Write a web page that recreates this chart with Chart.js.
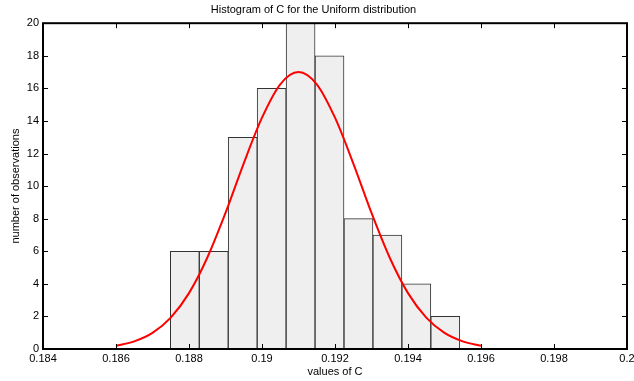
<!DOCTYPE html>
<html>
<head>
<meta charset="utf-8">
<script src="https://cdn.jsdelivr.net/npm/chart.js@4"></script>
<style>
  html, body { margin: 0; padding: 0; background: #fff; }
  #wrap { width: 634px; height: 381px; }
</style>
</head>
<body>
<div id="wrap"><canvas id="js--histogram"></canvas></div>
<script>
// histogram bins (centres) and counts
const binCenters = [0.187885, 0.188678, 0.189471, 0.190264, 0.191057, 0.191850, 0.192643, 0.193436, 0.194229, 0.195022];
const counts = [6, 6, 13, 16, 20, 18, 8, 7, 4, 2];

// fitted curve
const fitX = [0.186, 0.1865, 0.187, 0.1875, 0.188, 0.1885, 0.189, 0.1895, 0.190, 0.1905, 0.191,
              0.1915, 0.192, 0.1925, 0.193, 0.1935, 0.194, 0.1945, 0.195, 0.1955, 0.196];
const fitY = [0.20, 0.47, 0.99, 1.93, 3.43, 5.6, 8.35, 11.4, 14.2, 16.25, 17.0,
              16.25, 14.2, 11.4, 8.35, 5.6, 3.43, 1.93, 0.99, 0.47, 0.20];

const xTicks = [0.184, 0.186, 0.188, 0.19, 0.192, 0.194, 0.196, 0.198, 0.2];
const yTicks = [0, 2, 4, 6, 8, 10, 12, 14, 16, 18, 20];

const font = { family: "'Liberation Sans', Arial, sans-serif", size: 11 };

// box round the plot + inward tick marks
const frame = {
  id: 'frame',
  afterDatasetsDraw(chart) {
    const { ctx, chartArea: a, scales: { x, y } } = chart;
    ctx.save();
    ctx.strokeStyle = '#000';
    ctx.lineWidth = 1;
    ctx.beginPath();
    x.ticks.forEach(t => {
      const px = Math.round(x.getPixelForValue(t.value)) + 0.5;
      ctx.moveTo(px, a.bottom); ctx.lineTo(px, a.bottom - 5);
      ctx.moveTo(px, a.top); ctx.lineTo(px, a.top + 5);
    });
    y.ticks.forEach(t => {
      const py = Math.round(y.getPixelForValue(t.value)) + 0.5;
      ctx.moveTo(a.left, py); ctx.lineTo(a.left + 5, py);
      ctx.moveTo(a.right, py); ctx.lineTo(a.right - 5, py);
    });
    ctx.stroke();
    ctx.lineWidth = 2;
    ctx.strokeRect(a.left, a.top, a.right - a.left, a.bottom - a.top);
    ctx.restore();
  }
};

const data = {
  datasets: [
    {
      type: 'line',
      data: fitX.map((v, i) => ({ x: v, y: fitY[i] })),
      borderColor: '#ff0000',
      borderWidth: 2,
      pointRadius: 0,
      cubicInterpolationMode: 'monotone',
      order: 0
    },
    {
      type: 'bar',
      data: binCenters.map((v, i) => ({ x: v, y: counts[i] })),
      backgroundColor: '#efefef',
      borderColor: '#333',
      borderWidth: 1,
      barPercentage: 1,
      categoryPercentage: 1,
      order: 1
    }
  ]
};

const config = {
  type: 'bar',
  data: data,
  plugins: [frame],
  options: {
    responsive: true,
    maintainAspectRatio: false,
    animation: false,
    layout: { padding: { left: 0, right: 7, top: 0, bottom: 0 } },
    plugins: {
      legend: { display: false },
      tooltip: { enabled: false },
      title: {
        display: true,
        text: 'Histogram of C for the Uniform distribution',
        color: '#000',
        font: { family: font.family, size: 11, weight: 'normal' },
        padding: { top: 3, bottom: 7 }
      }
    },
    scales: {
      x: {
        type: 'linear',
        min: 0.184,
        max: 0.2,
        offset: false,
        grid: { display: false, drawTicks: false },
        border: { display: false },
        afterBuildTicks: s => { s.ticks = xTicks.map(v => ({ value: v })); },
        afterFit: s => { s.height = 32; s.paddingLeft = 0; s.paddingRight = 0; },
        ticks: { color: '#000', font: font, padding: 3, maxRotation: 0, autoSkip: false,
                 callback: v => String(v) },
        title: { display: true, text: 'values of C', color: '#000', font: font,
                 padding: { top: 0, bottom: 2 } }
      },
      y: {
        min: 0,
        max: 20,
        grid: { display: false, drawTicks: false },
        border: { display: false },
        afterBuildTicks: s => { s.ticks = yTicks.map(v => ({ value: v })); },
        afterFit: s => { s.width = 43; s.paddingTop = 0; s.paddingBottom = 0; },
        ticks: { color: '#000', font: font, padding: 4 },
        title: { display: true, text: 'number of observations', color: '#000', font: font,
                 padding: { top: 9, bottom: 0 } }
      }
    }
  }
};

const chart1 = new Chart(document.getElementById('js--histogram'), config);
</script>
</body>
</html>
